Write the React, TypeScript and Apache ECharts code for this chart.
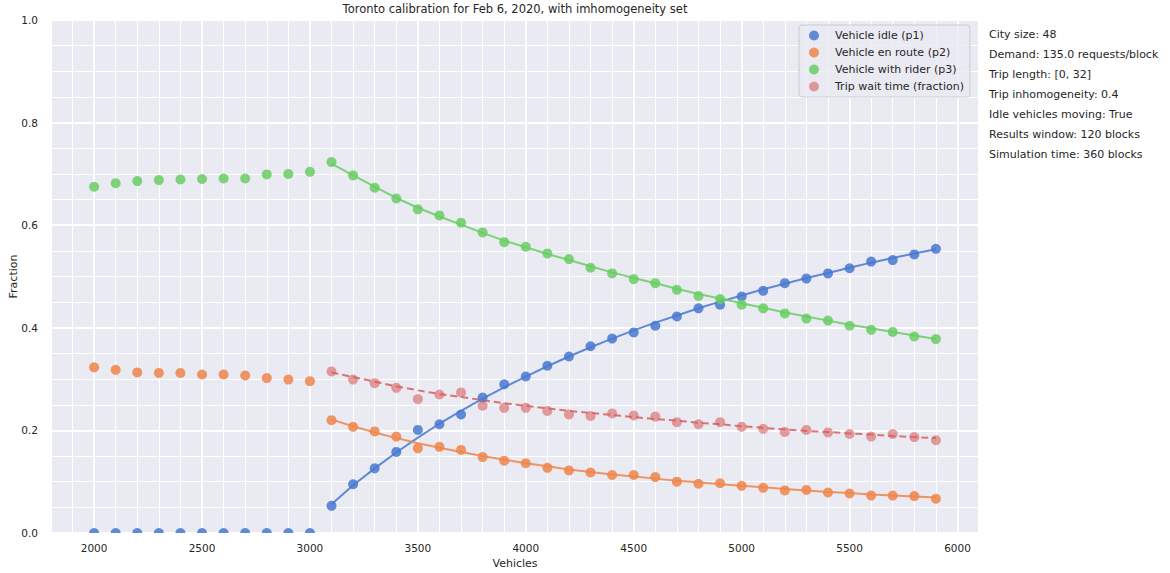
import React, { useEffect, useRef } from "react";
import * as echarts from "echarts";

const vehicles = [
  2000, 2100, 2200, 2300, 2400, 2500, 2600, 2700, 2800, 2900,
  3000, 3100, 3200, 3300, 3400, 3500, 3600, 3700, 3800, 3900,
  4000, 4100, 4200, 4300, 4400, 4500, 4600, 4700, 4800, 4900,
  5000, 5100, 5200, 5300, 5400, 5500, 5600, 5700, 5800, 5900,
];
const vehiclesFit = [
  3100, 3200, 3300, 3400, 3500, 3600, 3700, 3800, 3900,
  4000, 4100, 4200, 4300, 4400, 4500, 4600, 4700, 4800, 4900,
  5000, 5100, 5200, 5300, 5400, 5500, 5600, 5700, 5800, 5900,
];

const idleP1 = [
  0, 0, 0, 0, 0, 0, 0, 0, 0, 0,
  0, 0.053, 0.095, 0.126, 0.158, 0.201, 0.212, 0.231, 0.264, 0.29,
  0.305, 0.326, 0.344, 0.364, 0.379, 0.391, 0.404, 0.422, 0.438, 0.445,
  0.461, 0.472, 0.487, 0.496, 0.506, 0.516, 0.529, 0.532, 0.543, 0.554,
];
const enRouteP2 = [
  0.323, 0.318, 0.313, 0.312, 0.312, 0.309, 0.309, 0.307, 0.302, 0.299,
  0.296, 0.22, 0.207, 0.198, 0.188, 0.165, 0.168, 0.162, 0.148, 0.141,
  0.136, 0.127, 0.122, 0.118, 0.113, 0.113, 0.109, 0.1, 0.096, 0.097,
  0.092, 0.088, 0.083, 0.084, 0.079, 0.077, 0.073, 0.073, 0.072, 0.067,
];
const withRiderP3 = [
  0.675, 0.682, 0.686, 0.688, 0.689, 0.69, 0.691, 0.691, 0.699, 0.7,
  0.704, 0.723, 0.697, 0.673, 0.652, 0.631, 0.619, 0.605, 0.586, 0.567,
  0.558, 0.545, 0.534, 0.517, 0.506, 0.495, 0.487, 0.474, 0.462, 0.456,
  0.445, 0.438, 0.428, 0.418, 0.414, 0.404, 0.396, 0.392, 0.383, 0.378,
];
const waitTime = [
  0.315, 0.299, 0.292, 0.283, 0.261, 0.27, 0.274, 0.248, 0.244,
  0.244, 0.238, 0.231, 0.228, 0.233, 0.229, 0.227, 0.216, 0.212, 0.216,
  0.207, 0.203, 0.197, 0.201, 0.196, 0.193, 0.188, 0.193, 0.187, 0.181,
];

const idleFit = [
  0.056, 0.093, 0.126, 0.157, 0.186, 0.213, 0.238, 0.262, 0.284,
  0.305, 0.325, 0.344, 0.362, 0.379, 0.395, 0.41, 0.424, 0.438, 0.451,
  0.463, 0.475, 0.486, 0.497, 0.507, 0.517, 0.527, 0.536, 0.545, 0.553,
];
const enRouteFit = [
  0.221, 0.208, 0.196, 0.185, 0.175, 0.166, 0.158, 0.15, 0.143,
  0.136, 0.13, 0.124, 0.119, 0.114, 0.11, 0.106, 0.102, 0.099, 0.095,
  0.092, 0.089, 0.086, 0.083, 0.08, 0.078, 0.075, 0.073, 0.071, 0.069,
];
const withRiderFit = [
  0.72, 0.697, 0.675, 0.653, 0.634, 0.617, 0.601, 0.585, 0.57,
  0.557, 0.544, 0.532, 0.52, 0.508, 0.497, 0.487, 0.476, 0.466, 0.457,
  0.448, 0.439, 0.43, 0.422, 0.414, 0.406, 0.399, 0.392, 0.385, 0.378,
];
const waitFit = [
  0.313, 0.304, 0.295, 0.286, 0.278, 0.271, 0.265, 0.259, 0.253,
  0.248, 0.243, 0.238, 0.234, 0.23, 0.226, 0.222, 0.219, 0.215, 0.212,
  0.208, 0.205, 0.202, 0.199, 0.197, 0.194, 0.192, 0.189, 0.187, 0.185,
];

const xTickLabels = [2000, 2500, 3000, 3500, 4000, 4500, 5000, 5500, 6000];
const xGridMinor = [
  1900, 2000, 2100, 2200, 2300, 2400, 2500, 2600, 2700, 2800, 2900,
  3000, 3100, 3200, 3300, 3400, 3500, 3600, 3700, 3800, 3900,
  4000, 4100, 4200, 4300, 4400, 4500, 4600, 4700, 4800, 4900,
  5000, 5100, 5200, 5300, 5400, 5500, 5600, 5700, 5800, 5900, 6000,
];

const legendNames = [
  "Vehicle idle (p1)",
  "Vehicle en route (p2)",
  "Vehicle with rider (p3)",
  "Trip wait time (fraction)",
];
const colors = ["#4878D0", "#EE854A", "#6ACC64", "#D65F5F"];
const markerOpacity = [0.85, 0.85, 0.85, 0.6];

const infoLines = [
  "City size: 48",
  "Demand: 135.0 requests/block",
  "Trip length: [0, 32]",
  "Trip inhomogeneity: 0.4",
  "Idle vehicles moving: True",
  "Results window: 120 blocks",
  "Simulation time: 360 blocks",
];

const titleText = "Toronto calibration for Feb 6, 2020, with imhomogeneity set";
const FONT = "DejaVu Sans";
const TEXT = "#262626";

function pairs(xs: number[], ys: number[]) {
  return xs.map((x, i) => [x, ys[i]]);
}

function scatterSeries(name: string, xs: number[], ys: number[], idx: number) {
  const color = colors[idx];
  const op = markerOpacity[idx];
  return {
    type: "custom",
    name,
    data: pairs(xs, ys),
    encode: { x: 0, y: 1 },
    clip: true,
    z: 4,
    itemStyle: { color, opacity: op },
    renderItem: (params: any, api: any) => {
      const p = api.coord([api.value(0), api.value(1)]);
      return {
        type: "circle",
        shape: { cx: p[0], cy: p[1], r: 5 },
        style: { fill: color, opacity: op },
      };
    },
  };
}

function fitSeries(name: string, ys: number[], idx: number, dashed = false) {
  return {
    type: "line",
    name,
    data: pairs(vehiclesFit, ys),
    showSymbol: false,
    symbol: "none",
    smooth: false,
    z: 3,
    silent: true,
    lineStyle: {
      color: colors[idx],
      width: 2,
      opacity: 0.85,
      type: dashed ? [7, 4] : "solid",
    },
  };
}

export default function App() {
  const ref = useRef<HTMLDivElement>(null);

  useEffect(() => {
    document.body.style.margin = "0";
    if (!ref.current) return;
    const chart = echarts.init(ref.current, undefined, { renderer: "svg" });

    const option: any = {
      animation: false,
      backgroundColor: "#ffffff",
      textStyle: { fontFamily: FONT, color: TEXT },
      grid: {
        left: 52,
        right: 192,
        top: 20,
        bottom: 40,
        show: true,
        backgroundColor: "#EAEAF2",
        borderWidth: 0,
        containLabel: false,
        outerBoundsMode: "none",
      },
      xAxis: {
        type: "value",
        min: 1805,
        max: 6095,
        name: "Vehicles",
        nameLocation: "middle",
        nameGap: 25,
        nameMoveOverlap: false,
        nameTextStyle: { fontFamily: FONT, fontSize: 11, color: TEXT },
        axisLine: { show: false },
        axisTick: { show: false },
        splitLine: { show: false },
        axisLabel: {
          customValues: xTickLabels,
          fontFamily: FONT,
          fontSize: 10.5,
          color: TEXT,
          margin: 9,
          formatter: (v: number) => String(v),
        },
      },
      yAxis: {
        type: "value",
        min: 0,
        max: 1,
        interval: 0.2,
        name: "Fraction",
        nameLocation: "middle",
        nameGap: 33,
        nameMoveOverlap: false,
        nameTextStyle: { fontFamily: FONT, fontSize: 11, color: TEXT },
        axisLine: { show: false },
        axisTick: { show: false },
        minorTick: { show: false, splitNumber: 4 },
        splitLine: { show: true, lineStyle: { color: "#ffffff", width: 1.8 } },
        minorSplitLine: { show: true, lineStyle: { color: "#ffffff", width: 1 } },
        axisLabel: {
          fontFamily: FONT,
          fontSize: 10.5,
          color: TEXT,
          margin: 14,
          formatter: (v: number) => v.toFixed(1),
        },
      },
      legend: {
        orient: "vertical",
        left: 799,
        top: 25,
        padding: [4, 6, 4, 10],
        itemGap: 4,
        itemWidth: 10,
        itemHeight: 10,
        icon: "circle",
        z: 6,
        backgroundColor: "rgba(234,234,242,0.8)",
        borderColor: "#CCCCCC",
        borderWidth: 1,
        borderRadius: 3,
        textStyle: {
          fontFamily: FONT,
          fontSize: 11,
          lineHeight: 13,
          color: TEXT,
          padding: [0, 0, 0, 11],
        },
        data: legendNames.map((n, i) => ({
          name: n,
          itemStyle: { color: colors[i], opacity: markerOpacity[i] },
        })),
        selectedMode: false,
      },
      graphic: [
        {
          type: "text",
          x: 515,
          y: 9,
          style: {
            text: titleText,
            fontFamily: FONT,
            fontSize: 11.5,
            fill: TEXT,
            textAlign: "center",
            textVerticalAlign: "middle",
          },
        },
        ...infoLines.map((t, i) => ({
          type: "text",
          x: 989,
          y: 34 + i * 20,
          style: {
            text: t,
            fontFamily: FONT,
            fontSize: 11,
            fill: TEXT,
            textAlign: "left",
            textVerticalAlign: "middle",
          },
        })),
      ],
      series: [
        {
          type: "line",
          name: "_vgrid",
          data: [],
          silent: true,
          z: 1,
          markLine: {
            silent: true,
            z: 1,
            symbol: ["none", "none"],
            label: { show: false },
            animation: false,
            data: xGridMinor.map((v) => ({
              xAxis: v,
              lineStyle: {
                color: "#ffffff",
                type: "solid",
                width: xTickLabels.indexOf(v) >= 0 ? 1.8 : 1,
              },
            })),
          },
        },
        fitSeries("_fit1", idleFit, 0),
        fitSeries("_fit2", enRouteFit, 1),
        fitSeries("_fit3", withRiderFit, 2),
        fitSeries("_fit4", waitFit, 3, true),
        scatterSeries(legendNames[0], vehicles, idleP1, 0),
        scatterSeries(legendNames[1], vehicles, enRouteP2, 1),
        scatterSeries(legendNames[2], vehicles, withRiderP3, 2),
        scatterSeries(legendNames[3], vehiclesFit, waitTime, 3),
      ],
    };

    chart.setOption(option);
    return () => chart.dispose();
  }, []);

  return <div ref={ref} style={{ width: 1170, height: 573 }} />;
}
